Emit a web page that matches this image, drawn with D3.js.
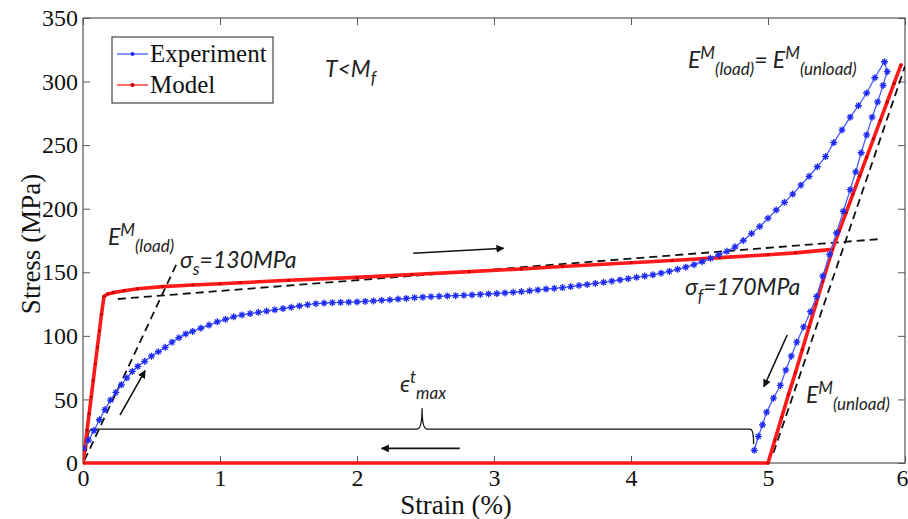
<!DOCTYPE html>
<html>
<head>
<meta charset="utf-8">
<script src="https://cdn.jsdelivr.net/npm/d3@7"></script>
<style>
body { margin: 0; background: #fff; }
.axis-title { font-family: "Liberation Serif", "Times New Roman", serif; font-size: 27px; fill: #111; }
.legend-text { font-family: "Liberation Serif", "Times New Roman", serif; font-size: 25px; fill: #111; }
.note { font-family: Lato, "Open Sans", sans-serif; font-style: italic; font-size: 23px; fill: #222; }
</style>
</head>
<body>
<svg id="chart" width="908" height="519"></svg>
<script>
// tick values
const xTicks = [0, 1, 2, 3, 4, 5, 6];
const yTicks = [0, 50, 100, 150, 200, 250, 300, 350];

// Experiment: loading then unloading (strain %, stress MPa)
const expStrain = [
    0.00, 0.04, 0.08, 0.12, 0.16, 0.20, 0.24, 0.28, 0.32, 0.36, 0.40, 0.45, 0.50, 0.55, 0.60, 0.65, 0.70, 0.75, 0.80, 0.86,
    0.92, 0.98, 1.04, 1.10, 1.16, 1.22, 1.28, 1.34, 1.40, 1.46, 1.52, 1.58, 1.64, 1.70, 1.76, 1.82, 1.88, 1.94, 2.00, 2.06,
    2.12, 2.18, 2.24, 2.30, 2.36, 2.42, 2.48, 2.54, 2.60, 2.66, 2.72, 2.78, 2.84, 2.90, 2.96, 3.02, 3.08, 3.14, 3.20, 3.26,
    3.32, 3.38, 3.44, 3.50, 3.56, 3.62, 3.68, 3.74, 3.80, 3.86, 3.92, 3.98, 4.04, 4.10, 4.16, 4.22, 4.28, 4.34, 4.40, 4.46,
    4.52, 4.58, 4.64, 4.70, 4.76, 4.82, 4.88, 4.94, 5.00, 5.06, 5.12, 5.18, 5.24, 5.30, 5.36, 5.42, 5.48, 5.54, 5.60, 5.66,
    5.72, 5.78, 5.85,
    5.87, 5.84, 5.80, 5.76, 5.72, 5.68, 5.64, 5.60, 5.55, 5.50, 5.45, 5.40, 5.355, 5.31, 5.26, 5.21, 5.17, 5.13, 5.09, 5.04,
    4.99, 4.96, 4.93, 4.90
];
const expStress = [
    11.5, 18, 25.5, 34, 42, 49.5, 55.5, 61.5, 67, 72, 76, 80, 84, 87.5, 91, 95, 98.5, 101.5, 103.5, 106,
    108.5, 111, 113, 115, 116.5, 117.5, 118.5, 119.5, 120.5, 121.5, 122.5, 123.5, 124.5, 125.3, 125.8, 126.1, 126.3, 126.5, 126.7, 127.1,
    127.5, 128, 128.4, 128.9, 129.4, 130, 130.4, 130.8, 131.1, 131.4, 131.6, 131.9, 132.2, 132.6, 133, 133.3, 133.8, 134.3, 134.8, 135.4,
    136.1, 136.8, 137.4, 138, 138.8, 139.6, 140.4, 141.2, 142.1, 143, 144, 145, 146, 147, 148, 149.3, 150.7, 152.3, 154, 156,
    158.3, 161, 163.8, 166.5, 170, 175, 180.5, 186, 192.5, 199, 205, 211.5, 218.5, 225.5, 233, 241, 252, 262, 272, 281,
    291, 303, 315.6,
    307.8, 297, 284, 272, 258, 244, 229, 215, 198, 181, 164, 147, 131, 119, 107, 95, 84, 73, 61, 51,
    40, 30, 21, 10
];

// Model: elastic load, plateau, elastic load, elastic unload, back along zero stress
const modelStrain = [
    0, 0.015, 0.03, 0.045, 0.06, 0.075, 0.09, 0.105, 0.12, 0.135, 0.153,
    0.18, 0.22, 0.30, 0.40, 0.58, 0.80, 1.00, 1.15, 1.50, 2.00, 2.40, 2.82, 3.20, 3.50, 4.00, 4.30, 4.65, 5.00, 5.20, 5.47,
    5.52, 5.57, 5.62, 5.67, 5.72, 5.77, 5.82, 5.87, 5.92, 5.97,
    5.92, 5.87, 5.82, 5.77, 5.72, 5.67, 5.62, 5.57, 5.52, 5.47, 5.40, 5.35, 5.30, 5.25, 5.20, 5.15, 5.10, 5.05, 5.00,
    0
];
const modelStress = [
    0, 13, 26, 39, 52, 65, 78, 91, 104, 117, 131,
    133, 134, 135.5, 137, 138.7, 140, 141, 141.8, 143.7, 146, 148.3, 150.5, 152.6, 154.5, 157.5, 159.3, 161.5, 163.8, 165.3, 168,
    182.5, 197, 211.5, 226, 240.5, 255, 269.5, 284, 298.5, 313,
    298.5, 284, 269.5, 255, 240.5, 226, 211.5, 197, 182.5, 168, 143, 125, 107, 89, 71, 54, 36, 18, 0,
    0
];

// dashed guide lines [strain, stress]
const loadModulusLine = [[0.01, 2], [0.685, 157]];
const plateauLine = [[0.255, 129], [5.80, 176]];
const unloadModulusLine = [[5.04, 8], [6.0, 312]];

// arrows [from, to]
const arrows = [
    [[0.27, 37.6], [0.453, 72.6]],
    [[2.41, 165], [3.07, 168.9]],
    [[2.75, 11.5], [2.18, 11.5]],
    [[5.14, 100.7], [4.97, 60]]
];

// brace for max transformation strain
const braceStrain = [0.025, 0.065, 2.44, 2.475, 2.51, 4.87, 4.895];
const braceStress = [9, 26.7, 26.7, 43, 26.7, 26.7, 15];

const margin = {left: 83, right: 905, top: 18, bottom: 463};
const serif = '"Liberation Serif", "Times New Roman", serif';

const svg = d3.select('#chart');
const x = d3.scaleLinear().domain([0, 6]).range([margin.left, margin.right]);
const y = d3.scaleLinear().domain([0, 350]).range([margin.bottom, margin.top]);

const defs = svg.append('defs');
defs.append('clipPath').attr('id', 'plot-clip')
    .append('rect')
    .attr('x', margin.left).attr('y', margin.top - 2)
    .attr('width', margin.right - margin.left).attr('height', margin.bottom - margin.top + 4);

defs.append('marker')
    .attr('id', 'arrowhead')
    .attr('viewBox', '0 0 10 10')
    .attr('refX', 9).attr('refY', 5)
    .attr('markerWidth', 5).attr('markerHeight', 5)
    .attr('orient', 'auto')
    .append('path')
    .attr('d', 'M0,0L10,5L0,10Z')
    .attr('fill', '#111');

// frame with inward ticks on all four sides
const axisColor = '#555';
function styleTicks(g) {
    g.select('.domain').remove();
    g.selectAll('line').attr('stroke', axisColor);
    g.selectAll('text')
        .attr('fill', '#111')
        .style('font-family', serif)
        .style('font-size', '24px');
}

svg.append('g')
    .attr('transform', `translate(0,${margin.bottom})`)
    .call(d3.axisBottom(x).tickValues(xTicks).tickSize(-7).tickPadding(6).tickFormat(d3.format('d')))
    .call(styleTicks)
    .call(g => g.selectAll('.tick').filter(d => d === 6).select('text').attr('x', -3));

svg.append('g')
    .attr('transform', `translate(${margin.left},0)`)
    .call(d3.axisLeft(y).tickValues(yTicks).tickSize(-7).tickPadding(5).tickFormat(d3.format('d')))
    .call(styleTicks);

svg.append('g')
    .attr('transform', `translate(0,${margin.top})`)
    .call(d3.axisTop(x).tickValues(xTicks).tickSize(-7).tickFormat(''))
    .call(styleTicks);

svg.append('g')
    .attr('transform', `translate(${margin.right},0)`)
    .call(d3.axisRight(y).tickValues(yTicks).tickSize(-7).tickFormat(''))
    .call(styleTicks);

svg.append('rect')
    .attr('x', margin.left).attr('y', margin.top)
    .attr('width', margin.right - margin.left).attr('height', margin.bottom - margin.top)
    .attr('fill', 'none').attr('stroke', axisColor).attr('stroke-width', 1.2);

svg.append('text').attr('class', 'axis-title')
    .attr('x', 456).attr('y', 514)
    .attr('text-anchor', 'middle')
    .text('Strain (%)');

svg.append('text').attr('class', 'axis-title')
    .attr('transform', `translate(40,244) rotate(-90)`)
    .attr('text-anchor', 'middle')
    .text('Stress (MPa)');

const plot = svg.append('g').attr('clip-path', 'url(#plot-clip)');
const line = d3.line().x(d => x(d[0])).y(d => y(d[1]));

// dashed guides
[loadModulusLine, plateauLine, unloadModulusLine].forEach(pts => {
    plot.append('path')
        .attr('d', line(pts))
        .attr('fill', 'none')
        .attr('stroke', '#111')
        .attr('stroke-width', 1.8)
        .attr('stroke-dasharray', '8,5');
});

// brace
const bp = braceStrain.map((s, i) => [x(s), y(braceStress[i])]);
const brace = d3.path();
brace.moveTo(bp[0][0], bp[0][1]);
brace.quadraticCurveTo(bp[0][0] + 1, bp[1][1], bp[1][0], bp[1][1]);
brace.lineTo(bp[2][0], bp[2][1]);
brace.quadraticCurveTo(bp[3][0], bp[2][1], bp[3][0], bp[3][1]);
brace.quadraticCurveTo(bp[3][0], bp[4][1], bp[4][0], bp[4][1]);
brace.lineTo(bp[5][0], bp[5][1]);
brace.quadraticCurveTo(bp[6][0], bp[5][1], bp[6][0], bp[6][1]);
plot.append('path')
    .attr('d', brace.toString())
    .attr('fill', 'none')
    .attr('stroke', '#111')
    .attr('stroke-width', 1.3);

// model series
const modelPts = modelStrain.map((s, i) => [s, modelStress[i]]);
plot.append('path')
    .attr('d', line(modelPts))
    .attr('fill', 'none')
    .attr('stroke', '#ff1a1a')
    .attr('stroke-width', 3.6)
    .attr('stroke-linejoin', 'round');
plot.append('g').selectAll('circle')
    .data(modelPts.slice(0, modelPts.length - 1))
    .join('circle')
    .attr('cx', d => x(d[0]))
    .attr('cy', d => y(d[1]))
    .attr('r', 1.6)
    .attr('fill', '#c80000');

// experiment series
const expPts = expStrain.map((s, i) => [s, expStress[i]]);
const star = 'M-3.5,0H3.5M0,-3.5V3.5M-2.4,-2.4L2.4,2.4M-2.4,2.4L2.4,-2.4';
plot.append('path')
    .attr('d', line(expPts))
    .attr('fill', 'none')
    .attr('stroke', '#4a5cff')
    .attr('stroke-width', 1.3);
plot.append('g').selectAll('path')
    .data(expPts)
    .join('path')
    .attr('transform', d => `translate(${x(d[0])},${y(d[1])})`)
    .attr('d', star)
    .attr('stroke', '#1f2cf0')
    .attr('stroke-width', 1.3)
    .attr('fill', 'none');

// arrows
arrows.forEach(a => {
    svg.append('path')
        .attr('d', line(a))
        .attr('stroke', '#111')
        .attr('stroke-width', 1.6)
        .attr('marker-end', 'url(#arrowhead)');
});

// annotations with sub/superscripts
function note(px, py, parts) {
    const t = svg.append('text').attr('class', 'note').attr('x', x(px)).attr('y', y(py));
    let shift = 0;
    parts.forEach(p => {
        const target = p.s === 'sup' ? -9 : p.s === 'sub' ? 7 : 0;
        const ts = t.append('tspan').text(p.t).attr('dy', target - shift);
        if (p.s) ts.style('font-size', '17px');
        shift = target;
    });
}

note(1.766, 303.6, [{t: 'T<M'}, {t: 'f', s: 'sub'}]);
note(4.416, 310.7, [{t: 'E'}, {t: 'M', s: 'sup'}, {t: '(load)', s: 'sub'}, {t: '= E'}, {t: 'M', s: 'sup'}, {t: '(unload)', s: 'sub'}]);
note(0.182, 171.5, [{t: 'E'}, {t: 'M', s: 'sup'}, {t: '(load)', s: 'sub'}]);
note(0.708, 153.4, [{t: 'σ'}, {t: 's', s: 'sub'}, {t: '=130MPa'}]);
note(4.394, 132.1, [{t: 'σ'}, {t: 'f', s: 'sub'}, {t: '=170MPa'}]);
note(5.277, 47.2, [{t: 'E'}, {t: 'M', s: 'sup'}, {t: '(unload)', s: 'sub'}]);
note(2.314, 55.8, [{t: 'ϵ'}, {t: 't', s: 'sup'}, {t: 'max', s: 'sub'}]);

// legend
const legend = svg.append('g').attr('transform', 'translate(112,37)');
legend.append('rect')
    .attr('width', 161).attr('height', 66)
    .attr('fill', '#fff').attr('stroke', '#444').attr('stroke-width', 1.2);
const legendItems = [
    {label: 'Experiment', line: '#4a5cff', dot: '#1f2cf0'},
    {label: 'Model', line: '#ff1a1a', dot: '#c80000'}
];
legendItems.forEach((d, i) => {
    const g = legend.append('g').attr('transform', `translate(0,${17 + i * 31})`);
    g.append('line').attr('x1', 5).attr('x2', 36).attr('stroke', d.line).attr('stroke-width', 1.3);
    g.append('circle').attr('cx', 20.5).attr('r', 2).attr('fill', d.dot);
    g.append('text').attr('class', 'legend-text').attr('x', 38).attr('y', 8).text(d.label);
});
</script>
</body>
</html>
